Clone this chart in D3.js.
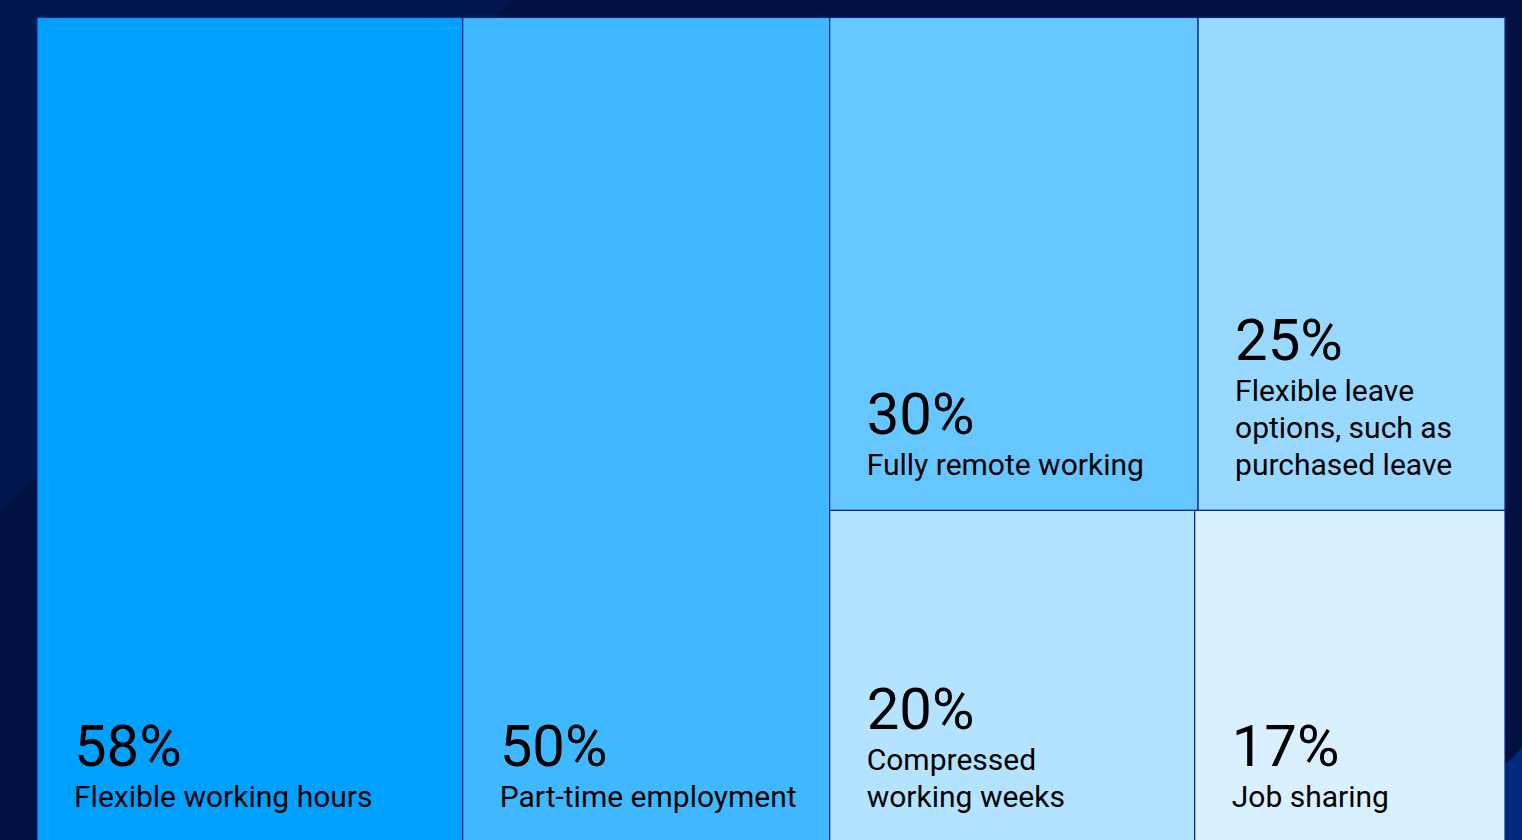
<!DOCTYPE html>
<html>
<head>
<meta charset="utf-8">
<script src="https://cdn.jsdelivr.net/npm/d3@7"></script>
<style>
  html, body { margin: 0; padding: 0; background: #00154f; overflow: hidden; }
  svg { display: block; }
</style>
</head>
<body>
<svg id="chart" width="1522" height="840"></svg>
<script>
// Flexible working arrangements offered, share of respondents (%)
const categories = [
  "Flexible working hours",
  "Part-time employment",
  "Fully remote working",
  "Flexible leave\noptions, such as\npurchased leave",
  "Compressed\nworking weeks",
  "Job sharing"
];
const values = [58, 50, 30, 25, 20, 17];
const fills = ["#00a0ff", "#40b8ff", "#66c6ff", "#99d8ff", "#b3e3ff", "#d9f0ff"];
// Grouping: two full-height columns, then a block of two rows (top: 30/25, bottom: 20/17)
const groups = [[0], [1], [[2, 3], [4, 5]]];

const W = 1522, H = 840;
const svg = d3.select("#chart");

// Background with diagonal bands
svg.append("rect").attr("width", W).attr("height", H).attr("fill", "#001040");
svg.append("path").attr("d", "M0,0 L513,0 L0,513 Z").attr("fill", "#00164f");
svg.append("path").attr("d", `M${W},748 L${W},${H} L1430,${H} Z`).attr("fill", "#002a7c");

// Build the hierarchy from the grouping
function build(g) {
  if (typeof g === "number") return { name: categories[g], value: values[g], idx: g };
  return { children: g.map(build) };
}
const root = d3.hierarchy(build(groups))
  .sum(d => d.value || 0);

const chartX0 = 37, chartY0 = 17.5, chartX1 = 1505, chartY1 = 842;
d3.treemap()
  .tile(d3.treemapSliceDice)
  .size([chartX1 - chartX0, chartY1 - chartY0])
  .round(false)(root);

const g = svg.append("g").attr("transform", `translate(${chartX0},${chartY0})`);
const leaves = root.leaves();

const cell = g.selectAll("g.cell").data(leaves).join("g").attr("class", "cell");

cell.append("rect")
  .attr("x", d => d.x0)
  .attr("y", d => d.y0)
  .attr("width", d => d.x1 - d.x0)
  .attr("height", d => d.y1 - d.y0)
  .attr("fill", d => fills[d.data.idx])
  .attr("stroke", "#0b2a82")
  .attr("stroke-width", 1.2);

const padX = 37, padBottom = 35, lineH = 37, pctGap = 41;

cell.each(function(d) {
  const sel = d3.select(this);
  const lines = d.data.name.split("\n");
  const lastBase = d.y1 - padBottom;
  const firstBase = lastBase - (lines.length - 1) * lineH;
  const tx = d.x0 + padX;

  sel.append("text")
    .attr("x", tx)
    .attr("y", firstBase - pctGap)
    .attr("font-family", "Roboto, 'Noto Sans', sans-serif")
    .attr("font-size", 58)
    .attr("fill", "#000")
    .text(d.data.value + "%");

  const t = sel.append("text")
    .attr("font-family", "Roboto, 'Noto Sans', sans-serif")
    .attr("font-size", 30)
    .attr("fill", "#000");
  lines.forEach((ln, i) => {
    t.append("tspan").attr("x", tx).attr("y", firstBase + i * lineH).text(ln);
  });
});
</script>
</body>
</html>
